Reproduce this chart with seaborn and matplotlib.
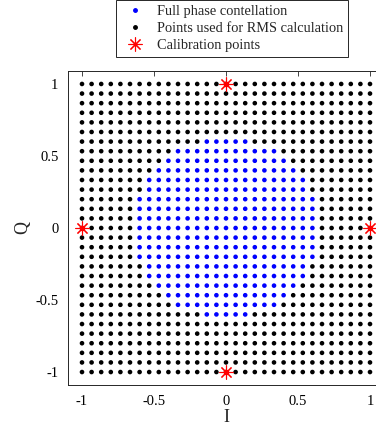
import numpy as np
import pandas as pd
import matplotlib
matplotlib.use('Agg')
import matplotlib.pyplot as plt
import seaborn as sns

# Grid levels of the constellation (31 x 31 points, step 1/15)
grid_index = np.arange(-15, 16)

# Half width (in grid steps) of the blue region for rows j = -9 .. 9
blue_rows = list(range(-9, 10))
blue_halfwidth = [2, 5, 6, 7, 8, 8, 9, 9, 9, 9, 9, 9, 9, 8, 8, 7, 6, 5, 2]

# Calibration points
cal_I = [1, 0, -1, 0]
cal_Q = [0, 1, 0, -1]

legend_labels = ['Full phase contellation', 'Points used for RMS calculation', 'Calibration points']
tick_vals = [-1, -0.5, 0, 0.5, 1]
tick_text = ['-1', '-0.5', '0', '0.5', '1']

# Build the point table
rows = []
hw = dict(zip(blue_rows, blue_halfwidth))
for j in grid_index:
    for i in grid_index:
        inside = j in hw and abs(i) <= hw[j]
        rows.append({'I': i / 15, 'Q': j / 15,
                     'set': legend_labels[0] if inside else legend_labels[1]})
points = pd.DataFrame(rows)

sns.set_style('white')
plt.rcParams['font.family'] = ['Liberation Serif', 'DejaVu Serif']

fig = plt.figure(figsize=(3.76, 4.32), dpi=100)
ax = fig.add_axes([67.6 / 376, 47 / 432, 316.8 / 376, 314 / 432])

sns.scatterplot(data=points, x='I', y='Q', hue='set',
                hue_order=legend_labels[:2],
                palette={legend_labels[0]: '#0000ff', legend_labels[1]: 'black'},
                s=11, linewidth=0, ax=ax, legend=False)
# calibration points: red dot with asterisk on top
ax.plot(cal_I, cal_Q, linestyle='none', marker='o', color='red', markersize=3)
ax.plot(cal_I, cal_Q, linestyle='none', marker=(8, 2, 0), color='red',
        markersize=10, markeredgewidth=0.8)

ax.set_xlim(-1.1, 1.1)
ax.set_ylim(-1.09, 1.09)
ax.set_xticks(tick_vals)
ax.set_yticks(tick_vals)
ax.set_xticklabels(tick_text)
ax.set_yticklabels(tick_text)
ax.tick_params(direction='in', length=3.5, width=0.6, top=True, right=True,
               labelsize=10.5, colors='#262626', labelcolor='black')
ax.tick_params(axis='x', pad=7)
ax.tick_params(axis='y', pad=6.5)
for sp in ax.spines.values():
    sp.set_linewidth(0.7)
    sp.set_color('#262626')
ax.set_xlabel('I', fontsize=13, labelpad=1)
ax.set_ylabel('Q', fontsize=13, labelpad=3)

handles = [
    plt.Line2D([], [], linestyle='none', marker='o', color='#0000ff', markersize=2.5),
    plt.Line2D([], [], linestyle='none', marker='o', color='black', markersize=2.5),
    plt.Line2D([], [], linestyle='none', marker=(8, 2, 0), color='red',
               markersize=10, markeredgewidth=0.8),
]
fig.legend(handles, legend_labels, loc='upper right', bbox_to_anchor=(348 / 376, 1.0),
           frameon=True, fancybox=False, edgecolor='#262626', framealpha=1,
           fontsize=10.4, handlelength=2.0, handletextpad=0.5, borderpad=0.35,
           labelspacing=0.26, borderaxespad=0)
fig.legend_ = None
for lg in fig.legends:
    lg.get_frame().set_linewidth(0.7)

fig.savefig('out.png', dpi=100)
